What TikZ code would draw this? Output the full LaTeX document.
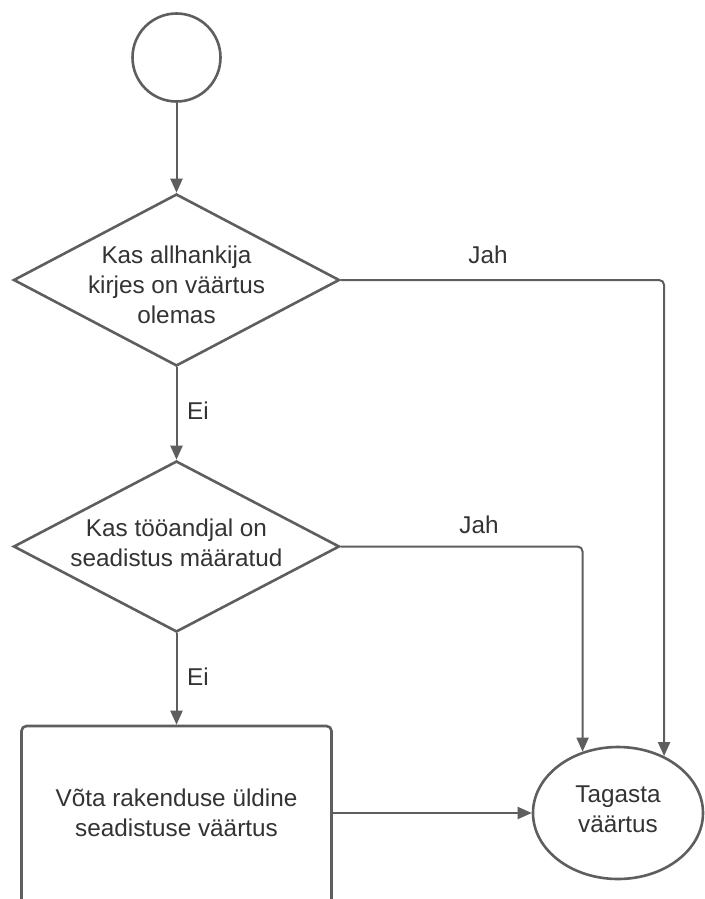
\documentclass[tikz,border=0pt]{standalone}
\usepackage{fontspec}
\setmainfont{Liberation Sans}
\usetikzlibrary{shapes.geometric,arrows.meta}
\definecolor{lc}{HTML}{5E5E5E}
\definecolor{tc}{HTML}{333333}
\begin{document}
\begin{tikzpicture}[x=1pt,y=-1pt,
  shapeline/.style={draw=lc,line width=2.6pt,fill=white,inner sep=0pt},
  conn/.style={draw=lc,line width=2pt,-{Triangle[length=14pt,width=12pt]},rounded corners=5pt},
  txt/.style={text=tc,font=\fontsize{24.3}{30}\selectfont,align=center,inner sep=0pt}]
\useasboundingbox (0,0) rectangle (704,899);

\node[shapeline,circle,minimum size=88pt] (start) at (176.5,57.5) {};
\node[shapeline,diamond,minimum width=326pt,minimum height=172pt] (d1) at (176.5,280) {};
\node[txt] (d1t) at (176.5,285) {Kas allhankija\\kirjes on väärtus\\olemas};
\node[shapeline,diamond,minimum width=326pt,minimum height=171pt] (d2) at (176.5,546.5) {};
\node[txt] (d2t) at (176.5,543) {Kas tööandjal on\\seadistus määratud};
\node[shapeline,rectangle,rounded corners=5pt,minimum width=310pt,minimum height=178pt] (box) at (176.5,815) {};
\node[txt] (boxt) at (176.5,813) {Võta rakenduse üldine\\seadistuse väärtus};
\node[shapeline,ellipse,minimum width=170pt,minimum height=132pt] (end) at (618,813) {};
\node[txt] (endt) at (618,809) {Tagasta\\väärtus};

\node[txt] (jah1) at (488,255) {Jah};
\node[txt] (jah2) at (479,525) {Jah};
\node[txt] (ei1) at (198,411) {Ei};
\node[txt] (ei2) at (198,677) {Ei};

\draw[conn] (start.south) -- (d1.north);
\draw[conn] (d1.south) -- (d2.north);
\draw[conn] (d2.south) -- (box.north);
\draw[conn] (box.east |- end.west) -- (end.west);
\draw[conn] (d1.east) -| (end.51.7);
\draw[conn] (d2.east) -| (end.120.6);
\end{tikzpicture}
\end{document}
